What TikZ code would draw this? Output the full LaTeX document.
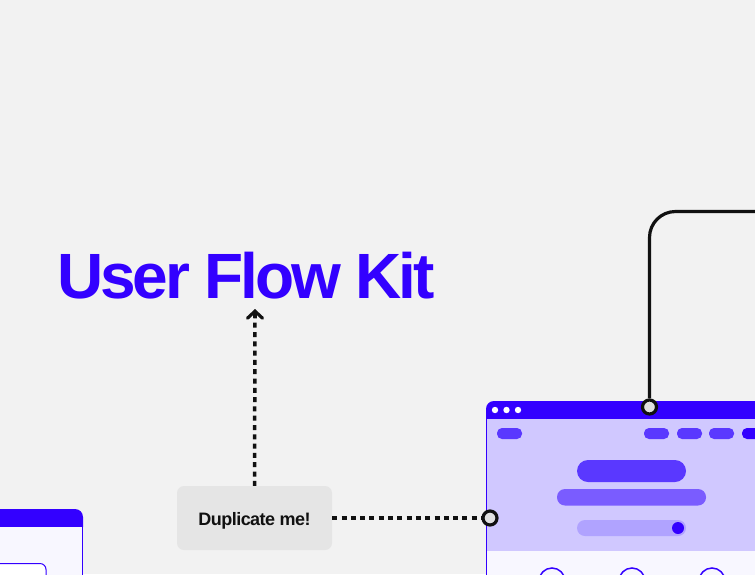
\documentclass[tikz,border=0pt]{standalone}
\usepackage{fontspec}
\setmainfont{Liberation Sans}
\newfontfamily\titlefont[LetterSpace=-4.9]{Liberation Sans Bold}
\newfontfamily\labelfont[LetterSpace=-3]{Liberation Sans Bold}
\usetikzlibrary{arrows.meta}
\definecolor{bgc}{HTML}{F2F2F2}
\definecolor{kblue}{HTML}{3300FF}
\definecolor{lav}{HTML}{D0C8FF}
\definecolor{pilld}{HTML}{5A38FF}
\definecolor{pillm}{HTML}{7A5CFF}
\definecolor{pilll}{HTML}{B0A3FF}
\definecolor{bodyw}{HTML}{F8F7FF}
\definecolor{dupc}{HTML}{E5E5E5}
\definecolor{portc}{HTML}{E0E0E0}
\definecolor{ink}{HTML}{111111}
\tikzset{
  dotline/.style={draw=ink, line width=3.5pt, dash pattern=on 5pt off 4.3pt},
  solidline/.style={draw=ink, line width=3.2pt, rounded corners=26pt},
  port/.style={circle, draw=ink, fill=portc, line width=3.2pt, minimum size=14pt, inner sep=0pt},
  pill/.style={rounded corners=#1},
  dupbox/.style={fill=dupc, rounded corners=7pt, minimum width=155pt, minimum height=64pt, inner sep=0pt},
}
\begin{document}
\begin{tikzpicture}[x=1pt,y=-1pt]
\fill[bgc] (0,0) rectangle (755,574);
\useasboundingbox (0,0) rectangle (755,574);
\clip (0,0) rectangle (755,574);

% title
\node[anchor=base west, inner sep=0pt, text=kblue, font=\titlefont\fontsize{64}{64}\selectfont] (title) at (57,298) {User Flow Kit};
\coordinate (arrowend) at (255,309);
\coordinate (arrowstart) at (255,318);

% duplicate box
\node[dupbox, text=ink] (dup) at (254.5,518) {};
\node[anchor=base, inner sep=0pt, font=\labelfont\fontsize{18}{18}\selectfont, text=ink] (duptext) at (254.5,525.5) {Duplicate me!};

% right window
\fill[lav, rounded corners=8pt] (486,401) rectangle (790,600);
\fill[bodyw] (486,551) rectangle (790,600);
\fill[kblue, rounded corners=8pt] (486,401) rectangle (790,430);
\fill[lav] (486,419) rectangle (790,432);
\draw[kblue, line width=1pt] (486.5,415) -- (486.5,600);
\fill[white] (495,410) circle (3.2pt) (506.5,410) circle (3.2pt) (518,410) circle (3.2pt);
% nav pills
\fill[pilld, pill=5pt] (497,428) rectangle (522,439);
\fill[pilld, pill=5pt] (644,428) rectangle (669,439);
\fill[pilld, pill=5pt] (677,428) rectangle (702,439);
\fill[pilld, pill=5pt] (709,428) rectangle (734,439);
\fill[kblue, pill=5pt] (742,428) rectangle (767,439);
% hero
\fill[pilld, pill=11pt] (577,460) rectangle (686,482);
\fill[pillm, pill=8pt] (557,489) rectangle (706,505.5);
\fill[pilll, pill=8pt] (577,520) rectangle (686,536);
\fill[kblue] (678,528) circle (6pt);
% bottom circles
\draw[kblue, line width=1.5pt] (552,581) circle (13pt) (632,581) circle (13pt) (712,581) circle (13pt);

% bottom-left window
\fill[bodyw, rounded corners=8pt] (-20,509) rectangle (83,620);
\fill[kblue, rounded corners=8pt] (-20,509) rectangle (83,535);
\fill[bodyw] (-20,527) rectangle (83,540);
\draw[kblue, line width=1pt] (82.5,522) -- (82.5,600);
\draw[kblue, line width=1pt, rounded corners=6pt, fill=white] (-20,563.5) rectangle (46,620);

% ports
\node[port] (p1) at (490,518) {};
\node[port] (p2) at (649.5,407) {};
\coordinate (topright) at (760,211.5);

% connectors
\draw[dotline] (dup.north) -- (arrowstart);
\draw[ink, line width=3.2pt, -{Straight Barb[length=7pt,width=15pt,line cap=round]}] (arrowstart) -- (arrowend);
\draw[dotline] (dup.east) -- (p1.west);
\draw[solidline] (p2.north) |- (topright);
\end{tikzpicture}
\end{document}
